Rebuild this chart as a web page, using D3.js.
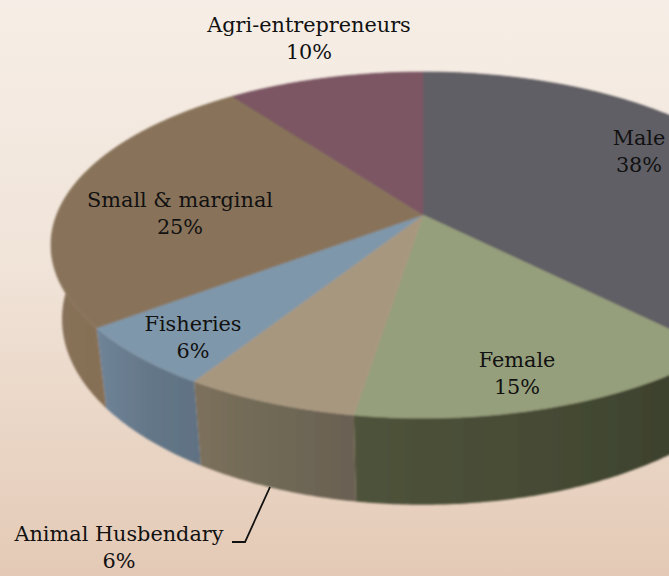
<!DOCTYPE html>
<html>
<head>
<meta charset="utf-8">
<script src="https://cdn.jsdelivr.net/npm/d3@7"></script>
<style>
  html, body { margin: 0; padding: 0; overflow: hidden; }
  text { font-family: "DejaVu Serif", serif; font-size: 20.8px; fill: #111; }
</style>
</head>
<body>
<div id="chart"></div>
<script>
// slices clockwise from 12 o'clock
let categories = ["Male", "Female", "Animal Husbendary", "Fisheries", "Small & marginal", "Agri-entrepreneurs"];
let shares = [37.6, 14.9, 6.45, 5.75, 25.2, 10.1];

let topColors = ["#605e65", "#959f7b", "#a8977f", "#7f97aa", "#88735a", "#7c5764"];
// wall shading, left to right on screen
let wallColors = [
  ["#45463f", "#3c3f30"],
  ["#4f533b", "#474c35", "#3a3e2c"],
  ["#7c705c", "#6f6956", "#6b6052"],
  ["#6f8498", "#647788", "#5f7182"],
  ["#87725a", "#866c4e", "#8a6c4b"],
  ["#6a4c56", "#6a4c56"]
];

// where each label goes: [centre x, first baseline]
let labelSpots = [[639, 145], [517, 367], [119, 541], [193, 331], [180, 207], [309, 32]];

let width = 669;
let height = 576;

// perspective of the pie: k is how much the near edge grows
let k = 0.1734;
let rim = { x: 423, y: 215, a: 366.4, b: 167.8 };
let base = { x: 423, y: 287, a: 355.5, b: 180 };

function project(plane, angle) {
  let u = Math.sin(angle);
  let v = Math.cos(angle);
  let s = 1 / (1 + k * v);
  return [plane.x + plane.a * u * s, plane.y - plane.b * v * s];
}

function arcPoints(plane, a0, a1) {
  let n = Math.max(2, Math.ceil((a1 - a0) / 0.01));
  return d3.range(n + 1).map((i) => project(plane, a0 + ((a1 - a0) * i) / n));
}

let svg = d3.select("#chart").append("svg").attr("width", width).attr("height", height).style("display", "block");
let defs = svg.append("defs");

// page background
let bg = defs.append("linearGradient").attr("id", "bg").attr("x1", 0).attr("y1", 0).attr("x2", 0).attr("y2", 1);
bg.append("stop").attr("offset", "0%").attr("stop-color", "#f6eee6");
bg.append("stop").attr("offset", "45%").attr("stop-color", "#f1e4d9");
bg.append("stop").attr("offset", "100%").attr("stop-color", "#e4cab6");
svg.append("rect").attr("width", width).attr("height", height).attr("fill", "url(#bg)");

defs.append("filter").attr("id", "soft").append("feGaussianBlur").attr("stdDeviation", 0.8);

let pie = d3.pie().sort(null).startAngle(0).endAngle(2 * Math.PI);
let slices = pie(shares);
let line = d3.line();

let g = svg.append("g").attr("filter", "url(#soft)");

// walls first, the top surface covers whatever is behind
// each wall is many small quads so the left silhouette comes out straight
slices.forEach((d, i) => {
  let top = arcPoints(rim, d.startAngle, d.endAngle);
  let bottom = arcPoints(base, d.startAngle, d.endAngle);
  let xs = top.concat(bottom).map((p) => p[0]);
  let grad = defs
    .append("linearGradient")
    .attr("id", "wall" + i)
    .attr("gradientUnits", "userSpaceOnUse")
    .attr("x1", d3.min(xs))
    .attr("x2", d3.max(xs))
    .attr("y1", 0)
    .attr("y2", 0);
  wallColors[i].forEach((c, j) => {
    grad.append("stop").attr("offset", j / (wallColors[i].length - 1)).attr("stop-color", c);
  });
  let quads = d3.range(top.length - 1).map((j) => line([top[j], top[j + 1], bottom[j + 1], bottom[j]]) + "Z");
  g.append("path")
    .attr("d", quads.join(""))
    .attr("fill", "url(#wall" + i + ")");
});

// top surface
slices.forEach((d, i) => {
  let pts = [[rim.x, rim.y]].concat(arcPoints(rim, d.startAngle, d.endAngle));
  g.append("path")
    .attr("d", line(pts) + "Z")
    .attr("fill", topColors[i])
    .attr("stroke", topColors[i])
    .attr("stroke-width", 0.6);
});

// labels
categories.forEach((c, i) => {
  let t = svg.append("g").attr("text-anchor", "middle");
  t.append("text").attr("x", labelSpots[i][0]).attr("y", labelSpots[i][1]).text(c);
  t.append("text")
    .attr("x", labelSpots[i][0])
    .attr("y", labelSpots[i][1] + 27)
    .text(Math.round(shares[i]) + "%");
});

// leader line for Animal Husbendary
svg.append("path")
  .attr("d", line([[270, 487], [245, 542], [232, 542]]))
  .attr("fill", "none")
  .attr("stroke", "#111")
  .attr("stroke-width", 1.8);
</script>
</body>
</html>
